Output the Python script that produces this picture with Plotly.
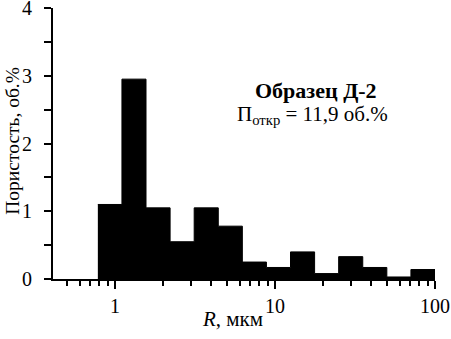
import plotly.graph_objects as go

# bin edges (um) and porosity per bin (vol.%)
edges = [0.78125, 1.105, 1.5625, 2.21, 3.125, 4.42, 6.25, 8.84, 12.5, 17.68, 25.0, 35.36, 50.0, 70.71, 100.0]
porosity = [1.1, 2.95, 1.05, 0.55, 1.05, 0.78, 0.25, 0.17, 0.4, 0.08, 0.33, 0.17, 0.03, 0.14]

x_ticks = [1, 10, 100]
x_ticklabels = ["1", "10", "100"]
y_ticks = [0, 1, 2, 3, 4]

FONT = "Liberation Serif, Times New Roman, serif"

fig = go.Figure()
fig.add_trace(go.Scatter(
    x=edges,
    y=porosity + [0],
    mode="lines",
    line=dict(shape="hv", color="black", width=1),
    fill="tozeroy",
    fillcolor="black",
    showlegend=False,
    hoverinfo="skip",
))

fig.add_annotation(
    x=0.688, y=0.697, xref="paper", yref="paper",
    text="<b>Образец Д-2</b>", showarrow=False,
    font=dict(family=FONT, size=22, color="black"), xanchor="center", yanchor="middle",
)
fig.add_annotation(
    x=0.68, y=0.605, xref="paper", yref="paper",
    text="П<sub>откр</sub> = 11,9 об.%", showarrow=False,
    font=dict(family=FONT, size=21, color="black"), xanchor="center", yanchor="middle",
)
# x-axis title
fig.add_annotation(
    x=0.469, y=-0.148, xref="paper", yref="paper",
    text="<i>R</i>, мкм", showarrow=False,
    font=dict(family=FONT, size=21, color="black"), xanchor="center", yanchor="middle",
)
# y-axis title
fig.add_annotation(
    x=-0.1047, y=0.51, xref="paper", yref="paper",
    text="Пористость, об.%", showarrow=False, textangle=-90, borderpad=0,
    font=dict(family=FONT, size=19.5, color="black"), xanchor="center", yanchor="middle",
)

fig.update_layout(
    width=451, height=339,
    margin=dict(l=53, r=16, t=8, b=60),
    plot_bgcolor="white", paper_bgcolor="white",
    font=dict(family=FONT, size=20, color="black"),
    xaxis=dict(
        type="log", range=[-0.3875, 2.0],
        tickvals=x_ticks, ticktext=x_ticklabels,
        ticks="outside", ticklen=8, tickwidth=2, tickcolor="black",
        ticklabeloverflow="allow", automargin=False,
        minor=dict(ticks="outside", ticklen=5, tickwidth=1.5, tickcolor="black",
                   tickvals=[0.5, 0.6, 0.7, 0.8, 0.9, 2, 3, 4, 5, 6, 7, 8, 9,
                             20, 30, 40, 50, 60, 70, 80, 90]),
        showline=True, linecolor="black", linewidth=2,
        showgrid=False, zeroline=False,
    ),
    yaxis=dict(
        range=[0, 4],
        tickvals=y_ticks,
        ticks="outside", ticklen=7, tickwidth=1.5, tickcolor="black",
        ticklabeloverflow="allow", automargin=False, ticklabelstandoff=8,
        minor=dict(ticks="outside", ticklen=7, tickwidth=1.5, tickcolor="black", dtick=0.5),
        showline=True, linecolor="black", linewidth=2,
        showgrid=False, zeroline=False,
    ),
)

fig.write_html("out.html", config={"displayModeBar": False},
               post_script="document.body.style.margin='0';")
